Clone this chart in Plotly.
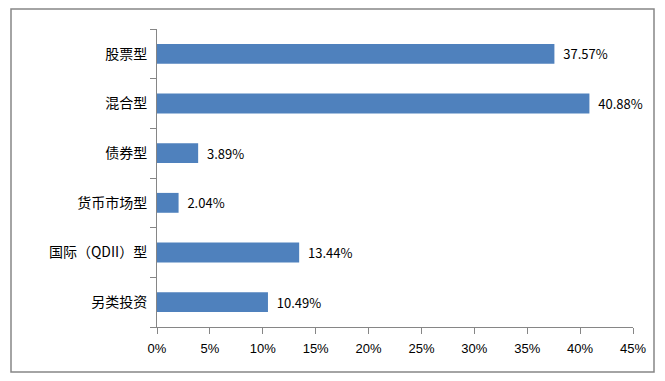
import plotly.graph_objects as go

categories = ["股票型", "混合型", "债券型", "货币市场型", "国际（QDII）型", "另类投资"]
values = [37.57, 40.88, 3.89, 2.04, 13.44, 10.49]
tick_vals = [0, 5, 10, 15, 20, 25, 30, 35, 40, 45]
tick_text = ["0%", "5%", "10%", "15%", "20%", "25%", "30%", "35%", "40%", "45%"]

labels = [f"  {v:.2f}%" for v in values]

fig = go.Figure(go.Bar(
    y=categories,
    x=values,
    orientation="h",
    marker=dict(color="#4F81BD", line=dict(width=0)),
    text=labels,
    textposition="outside",
    cliponaxis=False,
    textfont=dict(family="Noto Sans CJK SC, Liberation Sans", size=13, color="#000000"),
))

L, R, T, B = 157, 633, 29, 327
W, H = 665, 381
pw, ph = R - L, B - T

fig.update_layout(
    width=W, height=H,
    margin=dict(l=L, r=W - R, t=T, b=H - B, pad=0),
    paper_bgcolor="white", plot_bgcolor="white",
    bargap=0.6,
    showlegend=False,
    font=dict(family="Noto Sans CJK SC, Liberation Sans", size=13, color="#000000"),
    xaxis=dict(
        range=[0, 45], tickvals=tick_vals, ticktext=tick_text,
        showgrid=False, zeroline=False,
        showline=True, linecolor="#868686", linewidth=1,
        ticks="outside", ticklen=6, tickcolor="#868686",
        tickfont=dict(family="Liberation Sans Narrow, Liberation Sans", size=13),
        ticklabelstandoff=3,
        fixedrange=True,
    ),
    yaxis=dict(
        categoryorder="array", categoryarray=categories[::-1],
        showgrid=False, zeroline=False,
        showline=True, linecolor="#868686", linewidth=1,
        ticks="outside", ticklen=6, tickcolor="#868686", tickson="boundaries",
        tickfont=dict(family="Noto Sans CJK SC", size=14),
        ticklabelstandoff=6,
        fixedrange=True,
    ),
    shapes=[dict(
        type="rect", xref="paper", yref="paper",
        x0=(11 - L) / pw, x1=(654 - L) / pw,
        y0=(B - 372) / ph, y1=(B - 9) / ph,
        line=dict(color="#868686", width=1.5), fillcolor="rgba(0,0,0,0)", layer="below",
    )],
)

fig.write_html(
    "out.html",
    config={"displayModeBar": False, "staticPlot": True},
    post_script="document.body.style.margin='0';document.body.style.overflow='hidden';",
)
